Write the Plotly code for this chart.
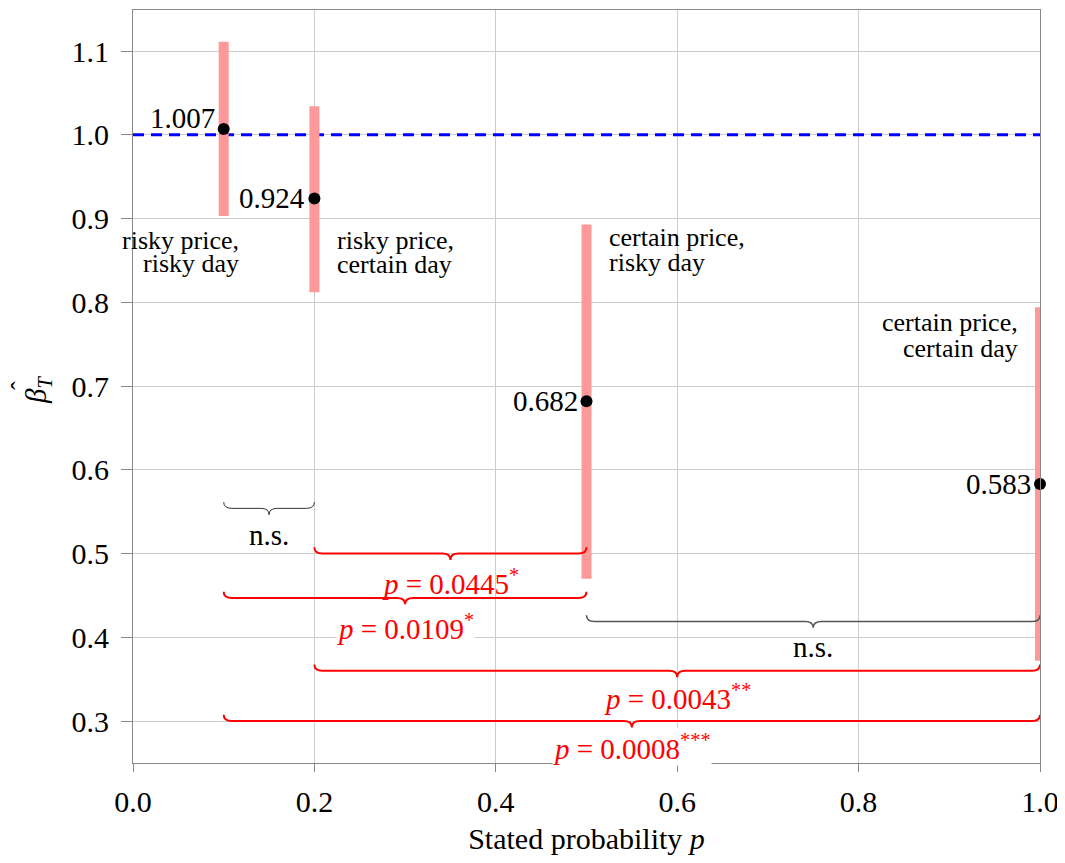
import plotly.graph_objects as go

# ---- data ----
probs = [0.1, 0.2, 0.5, 1.0]
beta_hat = [1.007, 0.924, 0.682, 0.583]
ci_upper = [1.111, 1.034, 0.893, 0.794]
ci_lower = [0.903, 0.812, 0.470, 0.372]
value_labels = ["1.007", "0.924", "0.682", "0.583"]

cond_line1 = ["risky price,", "risky price,", "certain price,", "certain price,"]
cond_line2 = ["risky day", "certain day", "risky day", "certain day"]
cond_x = [0.119, 0.2227, 0.5226, 0.978]
cond_y1 = [0.874, 0.874, 0.877, 0.776]
cond_y2 = [0.846, 0.845, 0.847, 0.745]
cond_align = ["right", "left", "left", "right"]

brace_x0 = [0.1, 0.2, 0.1, 0.5, 0.2, 0.1]
brace_x1 = [0.2, 0.5, 0.5, 1.0, 1.0, 1.0]
brace_y = [0.554, 0.500, 0.447, 0.419, 0.360, 0.300]
brace_label_y = [0.522, 0.466, 0.412, 0.388, 0.329, 0.269]
brace_labels = ["n.s.", "<i>p</i> = 0.0445<sup>*</sup>", "<i>p</i> = 0.0109<sup>*</sup>",
                "n.s.", "<i>p</i> = 0.0043<sup>**</sup>", "<i>p</i> = 0.0008<sup>***</sup>"]
brace_colors = ["#333333", "red", "red", "#555555", "red", "red"]
brace_widths = [1, 2, 2, 1.5, 2, 2]
brace_label_bg = [False, False, True, False, False, True]

FONT = "Liberation Serif"

fig = go.Figure()

# reference line at 1
fig.add_trace(go.Scatter(x=[0, 1.0], y=[1.0, 1.0], mode="lines",
                         line=dict(color="blue", width=3, dash="11px,7px"),
                         showlegend=False, hoverinfo="skip", cliponaxis=False))

# error bars + points
fig.add_trace(go.Scatter(
    x=probs, y=beta_hat, mode="markers", cliponaxis=False,
    marker=dict(color="black", size=12),
    error_y=dict(type="data", symmetric=False,
                 array=[u - b for u, b in zip(ci_upper, beta_hat)],
                 arrayminus=[b - l for b, l in zip(beta_hat, ci_lower)],
                 color="#ff9999", thickness=10, width=0),
    showlegend=False, hoverinfo="skip"))

# value labels
for x, y, t, i in zip(probs, beta_hat, value_labels, range(4)):
    fig.add_annotation(x=x, y=y, text=t, showarrow=False, xanchor="right",
                       yanchor="middle", xshift=-7, yshift=11 if i == 0 else 0,
                       font=dict(family=FONT, size=29, color="black"))

# condition labels (two lines each)
for x, y1, y2, t1, t2, a in zip(cond_x, cond_y1, cond_y2, cond_line1, cond_line2, cond_align):
    for yy, tt in ((y1, t1), (y2, t2)):
        fig.add_annotation(x=x, y=yy, text=tt, showarrow=False, xanchor=a, align=a,
                           yanchor="middle", font=dict(family=FONT, size=26, color="black"))

# braces
hx = 0.009   # horizontal curl (data units)
hy = 0.0075  # vertical curl (data units)
for x0, x1, y, ly, lab, col, w, bg in zip(brace_x0, brace_x1, brace_y, brace_label_y,
                                          brace_labels, brace_colors, brace_widths,
                                          brace_label_bg):
    xm = (x0 + x1) / 2
    path = (f"M {x0},{y + hy} Q {x0},{y} {x0 + hx},{y} "
            f"L {xm - hx},{y} Q {xm},{y} {xm},{y - hy} "
            f"Q {xm},{y} {xm + hx},{y} "
            f"L {x1 - hx},{y} Q {x1},{y} {x1},{y + hy}")
    fig.add_shape(type="path", path=path, xref="x", yref="y",
                  line=dict(color=col, width=w))
    fig.add_annotation(x=xm, y=ly, text=lab, showarrow=False, xanchor="center",
                       yanchor="middle", bgcolor="white" if bg else "rgba(0,0,0,0)",
                       borderpad=0,
                       font=dict(family=FONT, size=29,
                                 color="red" if col == "red" else "black"))

# y-axis title: beta with hat, subscript T
fig.add_annotation(xref="paper", yref="paper", x=-0.104, y=0.495,
                   text="<i>β</i><sub><i>T</i></sub>", showarrow=False,
                   textangle=-90, xanchor="center", yanchor="middle",
                   font=dict(family=FONT, size=29, color="black"))
fig.add_annotation(xref="paper", yref="paper", x=-0.104, y=0.495,
                   text="ˆ", showarrow=False, xshift=-18, yshift=5,
                   textangle=-90, xanchor="center", yanchor="middle",
                   font=dict(family=FONT, size=26, color="black"))

fig.update_layout(
    width=1057, height=855,
    margin=dict(l=125, r=25, t=2, b=100),
    plot_bgcolor="white", paper_bgcolor="white",
    font=dict(family=FONT, size=30, color="black"),
)
fig.update_xaxes(range=[0, 1.0], tickvals=[0, 0.2, 0.4, 0.6, 0.8, 1.0],
                 tickformat=".1f", showgrid=True, gridcolor="#cccccc", gridwidth=1,
                 showline=True, linecolor="#888888", linewidth=1, mirror=True,
                 ticks="outside", ticklen=8, tickcolor="#888888",
                 zeroline=False, ticklabelstandoff=4,
                 title=dict(text="Stated probability <i>p</i>", font=dict(size=30), standoff=10))
fig.update_yaxes(range=[0.25, 1.149], tickvals=[0.3, 0.4, 0.5, 0.6, 0.7, 0.8, 0.9, 1.0, 1.1],
                 tickformat=".1f", showgrid=True, gridcolor="#cccccc", gridwidth=1,
                 showline=True, linecolor="#888888", linewidth=1, mirror=True,
                 ticks="outside", ticklen=11, tickcolor="#888888",
                 zeroline=False, ticklabelstandoff=6)

fig.write_html("out.html")
